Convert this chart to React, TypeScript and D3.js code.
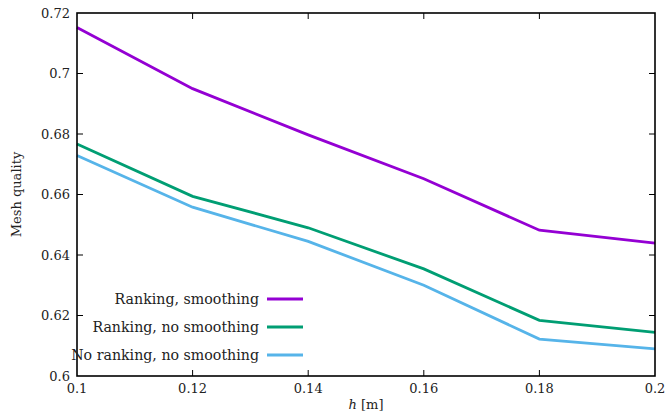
import React from "react";
import * as d3 from "d3";

const hValues = [0.1, 0.12, 0.14, 0.16, 0.18, 0.2];
const rankingSmoothing = [0.7152, 0.695, 0.6797, 0.6652, 0.6482, 0.6439];
const rankingNoSmoothing = [0.6767, 0.6594, 0.6490, 0.6354, 0.6184, 0.6144];
const noRankingNoSmoothing = [0.6729, 0.6558, 0.6445, 0.6300, 0.6122, 0.6090];
const seriesNames = ["Ranking, smoothing", "Ranking, no smoothing", "No ranking, no smoothing"];
const seriesColors = ["#9400D3", "#009E73", "#56B4E9"];
const xTicks = [0.1, 0.12, 0.14, 0.16, 0.18, 0.2];
const yTicks = [0.6, 0.62, 0.64, 0.66, 0.68, 0.7, 0.72];

const W = 667, H = 419;
const left = 77, right = 655, top = 13, bottom = 376;
const font = "'DejaVu Serif', 'Liberation Serif', serif";

export default function App() {
  const x = d3.scaleLinear().domain([0.1, 0.2]).range([left, right]);
  const y = d3.scaleLinear().domain([0.6, 0.72]).range([bottom, top]);
  const series = [rankingSmoothing, rankingNoSmoothing, noRankingNoSmoothing];
  const line = d3.line<number>().x((_, i) => x(hValues[i])).y((d) => y(d));
  const tl = 6;
  const fmt = (v: number) => String(+v.toFixed(2));
  const txt = "#222";
  return (
    <svg width={W} height={H} style={{ position: "absolute", left: 0, top: 0, background: "#fff" }}>
      <rect x={0} y={0} width={W} height={H} fill="#fff" />
      {series.map((s, i) => (
        <path key={i} d={line(s) || ""} fill="none" stroke={seriesColors[i]} strokeWidth={2.8} strokeLinejoin="miter" />
      ))}
      {xTicks.map((t, i) => (
        <g key={"xt" + i}>
          {i > 0 && i < xTicks.length - 1 && (
            <>
              <line x1={x(t)} x2={x(t)} y1={bottom} y2={bottom - tl} stroke="#000" strokeWidth={1} />
              <line x1={x(t)} x2={x(t)} y1={top} y2={top + tl} stroke="#000" strokeWidth={1} />
            </>
          )}
          <text x={x(t)} y={bottom + 17} textAnchor="middle" fontFamily={font} fontSize={13} fill={txt}>{fmt(t)}</text>
        </g>
      ))}
      {yTicks.map((t, i) => (
        <g key={"yt" + i}>
          {i > 0 && i < yTicks.length - 1 && (
            <>
              <line x1={left} x2={left + tl} y1={y(t)} y2={y(t)} stroke="#000" strokeWidth={1} />
              <line x1={right} x2={right - tl} y1={y(t)} y2={y(t)} stroke="#000" strokeWidth={1} />
            </>
          )}
          <text x={left - 7} y={y(t)} dy="0.35em" textAnchor="end" fontFamily={font} fontSize={13} fill={txt}>{fmt(t)}</text>
        </g>
      ))}
      <rect x={left} y={top} width={right - left} height={bottom - top} fill="none" stroke="#000" strokeWidth={1.6} />
      {seriesNames.map((n, i) => {
        const ly = 299 + i * 28;
        return (
          <g key={"lg" + i}>
            <text x={259} y={ly} dy="0.35em" textAnchor="end" fontFamily={font} fontSize={14.2} fill={txt}>{n}</text>
            <line x1={267} x2={303} y1={ly} y2={ly} stroke={seriesColors[i]} strokeWidth={2.8} />
          </g>
        );
      })}
      <text x={366} y={409} textAnchor="middle" fontFamily={font} fontSize={13} fill={txt}>
        <tspan fontStyle="italic">h</tspan> [m]
      </text>
      <text transform={`translate(21, ${(top + bottom) / 2}) rotate(-90)`} textAnchor="middle" fontFamily={font} fontSize={13} fill={txt}>Mesh quality</text>
    </svg>
  );
}
